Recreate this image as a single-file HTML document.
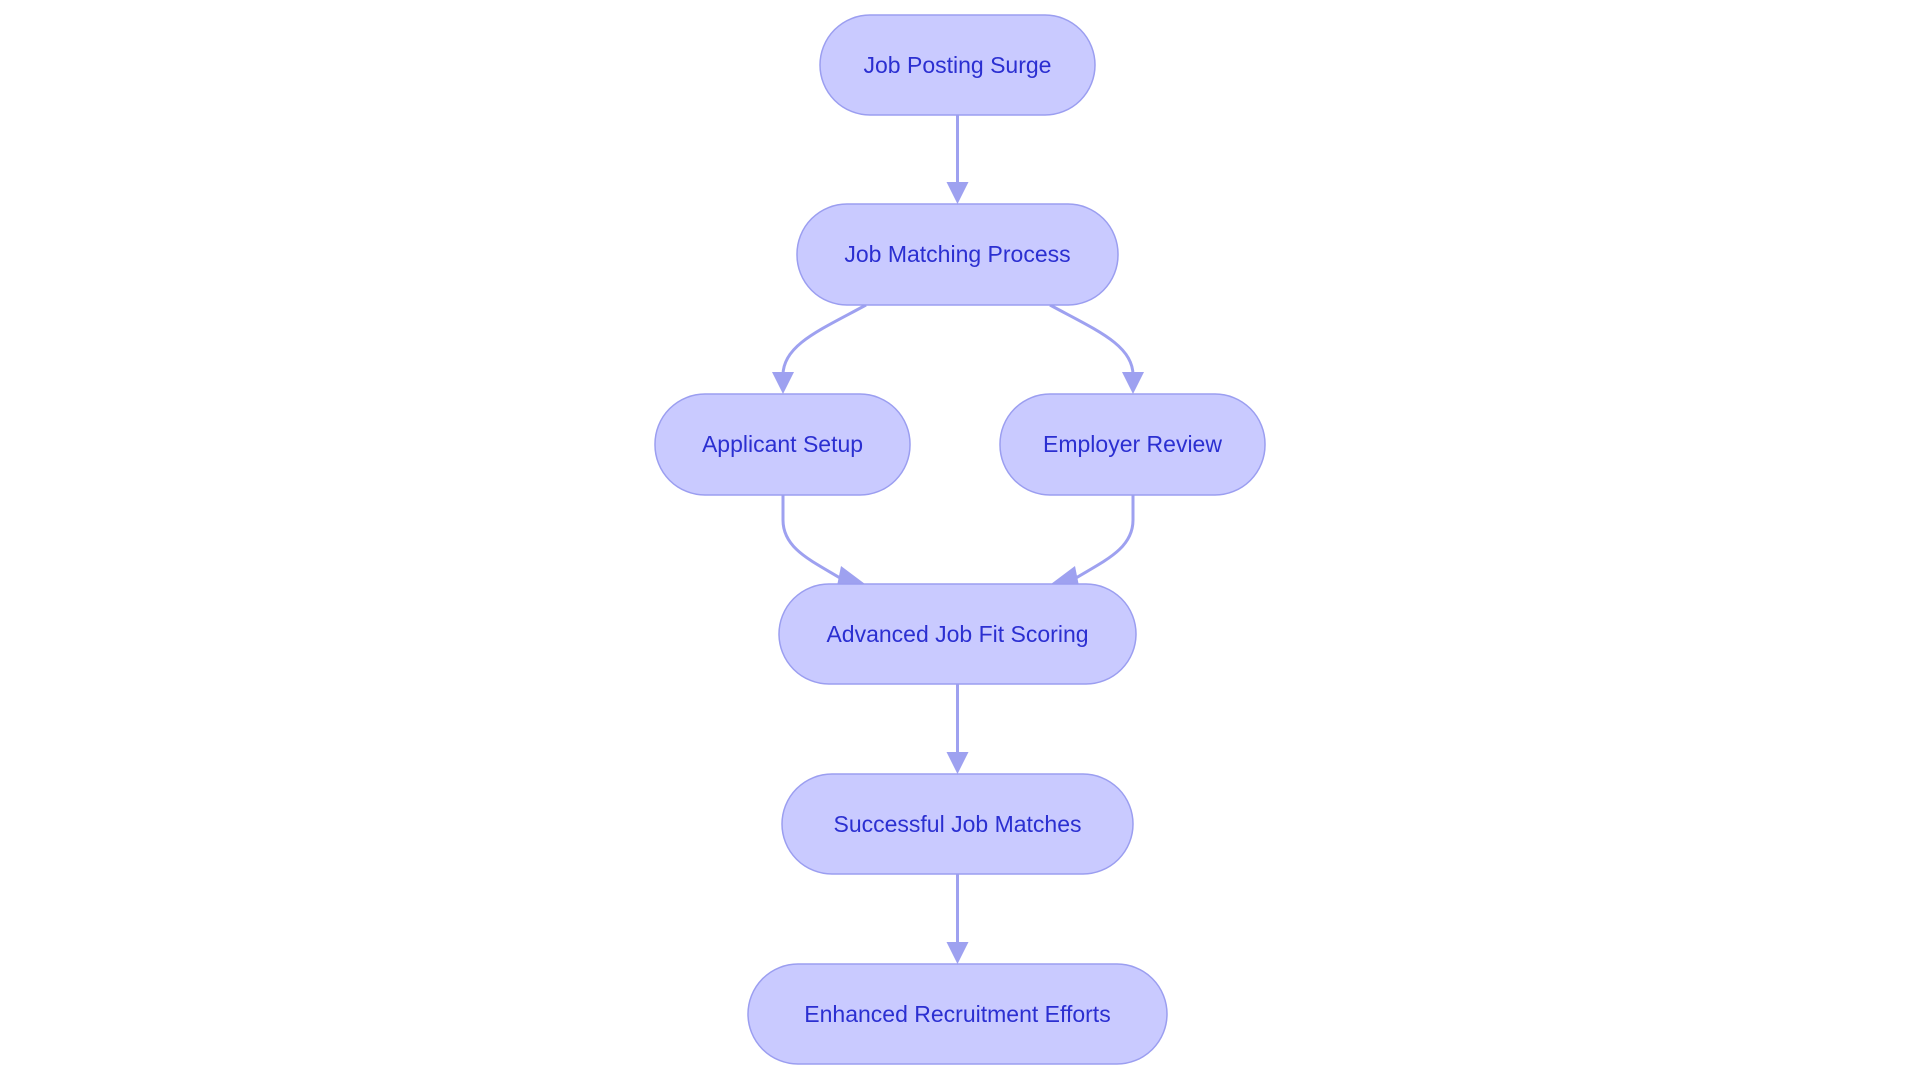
<!DOCTYPE html>
<html><head><meta charset="utf-8"><style>
html,body{margin:0;padding:0;background:#fff;}
svg{display:block;}
text{font-family:"Liberation Sans",sans-serif;font-size:23px;fill:#2b2fd1;text-anchor:middle;dominant-baseline:central;}
rect{fill:#c9caff;stroke:#9b9ef0;stroke-width:1.5;}
path.e{fill:none;stroke:#9ea1f0;stroke-width:3;}
</style></head><body>
<svg width="1920" height="1083" viewBox="0 0 1920 1083">
<defs><marker id="a" markerWidth="12" markerHeight="12" refX="10" refY="5" orient="auto" markerUnits="userSpaceOnUse" viewBox="0 0 10 10"><path d="M0,0 L10,5 L0,10 z" fill="#9ea1f0"/></marker></defs>
<g>
<path class="e" d="M957.5,115 L957.5,194" marker-end="url(#a)" style="marker-end:none"/>
<polygon points="946.5,182 968.5,182 957.5,204" fill="#9ea1f0"/>
<path class="e" d="M866,305 C820,330 783,345 783,375"/>
<polygon points="772,372 794,372 783,394" fill="#9ea1f0"/>
<path class="e" d="M1050,305 C1096,330 1133,345 1133,375"/>
<polygon points="1122,372 1144,372 1133,394" fill="#9ea1f0"/>
<path class="e" d="M783,495 L783,520 C783,548 810,560 840,578"/>
<polygon points="841,566 865,584 837,586" fill="#9ea1f0"/>
<path class="e" d="M1133,495 L1133,520 C1133,548 1106,560 1076,578"/>
<polygon points="1075,566 1051,584 1079,586" fill="#9ea1f0"/>
<path class="e" d="M957.5,684 L957.5,760"/>
<polygon points="946.5,752 968.5,752 957.5,774" fill="#9ea1f0"/>
<path class="e" d="M957.5,874 L957.5,950"/>
<polygon points="946.5,942 968.5,942 957.5,964" fill="#9ea1f0"/>
</g>
<rect x="820" y="15" width="275" height="100" rx="50"/><text x="957.5" y="65">Job Posting Surge</text>
<rect x="797" y="204" width="321" height="101" rx="50"/><text x="957.5" y="254">Job Matching Process</text>
<rect x="655" y="394" width="255" height="101" rx="50"/><text x="782.5" y="444">Applicant Setup</text>
<rect x="1000" y="394" width="265" height="101" rx="50"/><text x="1132.5" y="444">Employer Review</text>
<rect x="779" y="584" width="357" height="100" rx="50"/><text x="957.5" y="634">Advanced Job Fit Scoring</text>
<rect x="782" y="774" width="351" height="100" rx="50"/><text x="957.5" y="824">Successful Job Matches</text>
<rect x="748" y="964" width="419" height="100" rx="50"/><text x="957.5" y="1014">Enhanced Recruitment Efforts</text>
</svg>
</body></html>
